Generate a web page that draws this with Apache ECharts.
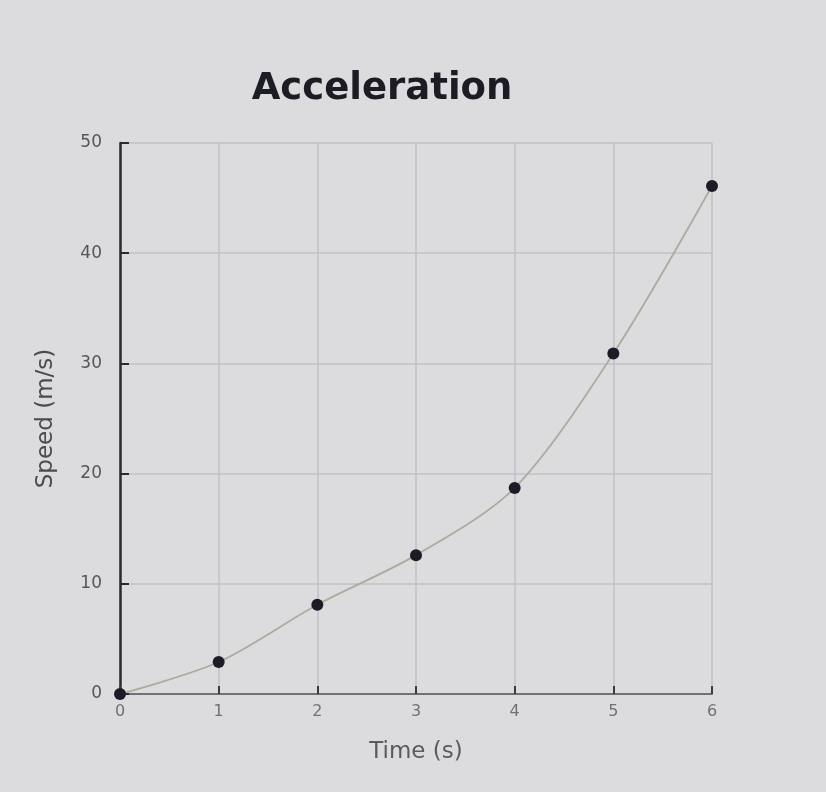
<!DOCTYPE html>
<html>
<head>
<meta charset="utf-8">
<script src="https://cdn.jsdelivr.net/npm/echarts@6/dist/echarts.min.js"></script>
<style>
html,body{margin:0;padding:0;background:#dcdcde;}
#c{width:826px;height:792px;}
</style>
</head>
<body>
<div id="c"></div>
<script>
const titleText = "Acceleration";
const xName = "Time (s)";
const yName = "Speed (m/s)";
const times = [0, 1, 2, 3, 4, 5, 6];
const speeds = [0, 2.9, 8.1, 12.6, 18.7, 30.9, 46.1];
const xTicks = [0, 1, 2, 3, 4, 5, 6];
const yTicks = [0, 10, 20, 30, 40, 50];

const chart = echarts.init(document.getElementById('c'));
const pts = times.map((t, i) => [t, speeds[i]]);
chart.setOption({
  backgroundColor: '#dcdcde',
  animation: false,
  title: {
    text: titleText,
    left: 377, top: 66, textAlign: 'center',
    textStyle: {fontFamily: 'DejaVu Sans', fontWeight: 'bold', fontSize: 37, color: '#1c1c24'}
  },
  grid: {left: 120, right: 114, top: 143, bottom: 98, containLabel: false},
  xAxis: {
    type: 'value', min: 0, max: 6, interval: 1,
    name: xName, nameLocation: 'middle', nameGap: 47,
    nameTextStyle: {fontFamily: 'DejaVu Sans', fontSize: 23, color: '#5a5a60'},
    axisLine: {show: true, lineStyle: {color: '#707078', width: 2}},
    axisTick: {show: true, inside: true, length: 8, lineStyle: {color: '#3a3a40', width: 2}},
    axisLabel: {fontFamily: 'DejaVu Sans', fontSize: 16, color: '#707078', margin: 10,
      formatter: v => xTicks.includes(v) ? String(v) : ''},
    splitLine: {show: true, lineStyle: {color: '#c2c2c6', width: 1.5}}
  },
  yAxis: {
    type: 'value', min: 0, max: 50, interval: 10,
    name: yName, nameLocation: 'middle', nameGap: 62,
    nameTextStyle: {fontFamily: 'DejaVu Sans', fontSize: 23, color: '#4a4a52'},
    axisLine: {show: true, lineStyle: {color: '#2a2a30', width: 2.5}},
    axisTick: {show: true, inside: true, length: 9, lineStyle: {color: '#2a2a30', width: 2}},
    axisLabel: {fontFamily: 'DejaVu Sans', fontSize: 17, color: '#55555c', margin: 18,
      formatter: v => yTicks.includes(v) ? String(v) : ''},
    splitLine: {show: true, lineStyle: {color: '#c2c2c6', width: 1.5}}
  },
  series: [{
    type: 'line',
    data: pts,
    smooth: 0.3,
    symbol: 'circle',
    symbolSize: 12,
    itemStyle: {color: '#1c1c26'},
    lineStyle: {color: '#a6ae9e', width: 1.8},
    z: 5
  }]
});
</script>
</body>
</html>
